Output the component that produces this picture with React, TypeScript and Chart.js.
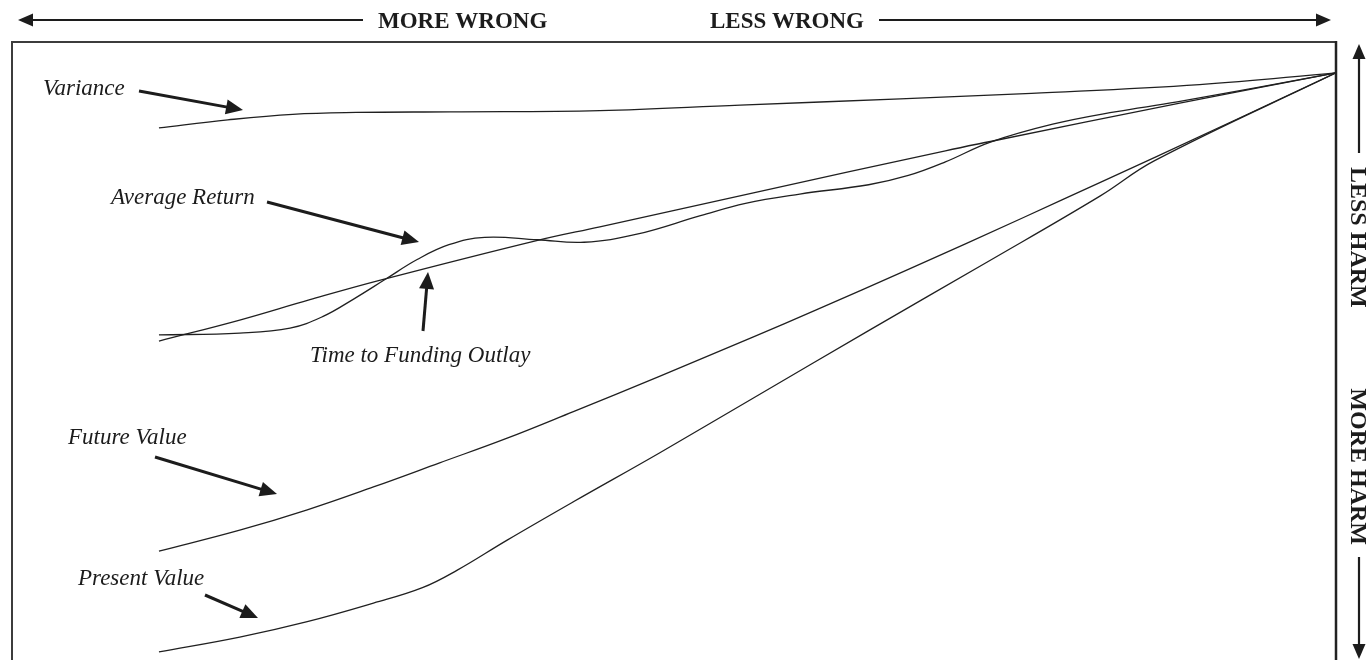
import React, { useEffect, useRef } from "react";
import { Chart, registerables } from "chart.js";

Chart.register(...registerables);

// Horizontal: 0 = far left ("more wrong") .. 100 = right edge ("less wrong")
// Vertical: 0 = bottom ("more harm") .. 100 = top ("less harm")
const varianceX = [11.1, 16.3, 21.2, 26.0, 33.1, 44.4, 55.0, 67.1, 77.0, 89.7, 100];
const varianceY = [86.1, 87.4, 88.3, 88.6, 88.7, 88.9, 89.8, 90.8, 91.7, 93.1, 95.0];

const averageReturnX = [11.1, 17.2, 21.0, 23.5, 25.8, 28.2, 30.6, 33.0, 35.7, 39.7, 43.2, 47.2, 52.0, 55.4, 59.5, 64.7, 67.7, 70.5, 73.9, 78.6, 83.3, 88.0, 100];
const averageReturnY = [52.6, 52.9, 53.7, 55.6, 58.4, 61.6, 64.8, 67.2, 68.4, 68.0, 67.6, 68.9, 71.9, 73.9, 75.4, 76.9, 78.4, 80.6, 83.8, 86.7, 88.7, 90.3, 95.0];

const timeToFundingX = [11.1, 17.2, 22.5, 27.9, 39.7, 44.4, 56.0, 70.5, 73.9, 88.2, 100];
const timeToFundingY = [51.6, 55.0, 58.3, 61.5, 67.9, 70.1, 75.6, 82.4, 83.9, 90.1, 95.0];

const futureValueX = [11.1, 17.2, 22.3, 27.3, 32.3, 37.4, 42.4, 48.9, 56.0, 60.7, 67.7, 76.4, 82.2, 86.4, 100];
const futureValueY = [17.6, 21.0, 24.3, 28.0, 31.9, 35.9, 40.2, 45.9, 52.3, 56.6, 63.2, 71.6, 77.3, 81.4, 95.0];

const presentValueX = [11.1, 17.2, 22.3, 27.3, 31.0, 33.6, 37.4, 42.4, 48.9, 56.0, 64.7, 73.5, 82.2, 86.3, 100];
const presentValueY = [1.3, 3.7, 6.2, 9.2, 11.7, 14.5, 19.4, 25.6, 33.5, 42.4, 53.3, 64.2, 75.1, 80.8, 95.0];

const seriesNames = ["Variance", "Average Return", "Time to Funding Outlay", "Future Value", "Present Value"];
const topLabels = ["MORE WRONG", "LESS WRONG"];
const sideLabels = ["LESS HARM", "MORE HARM"];

const toPoints = (xs: number[], ys: number[]) => xs.map((x, i) => ({ x, y: ys[i] }));

const INK = "#1c1c1c";

function arrow(ctx: CanvasRenderingContext2D, x1: number, y1: number, x2: number, y2: number, lw: number, headLen: number, headW: number) {
  const a = Math.atan2(y2 - y1, x2 - x1);
  const bx = x2 - headLen * Math.cos(a);
  const by = y2 - headLen * Math.sin(a);
  ctx.lineWidth = lw;
  ctx.beginPath();
  ctx.moveTo(x1, y1);
  ctx.lineTo(bx + Math.cos(a), by + Math.sin(a));
  ctx.stroke();
  ctx.beginPath();
  ctx.moveTo(x2, y2);
  ctx.lineTo(bx + headW * Math.sin(a), by - headW * Math.cos(a));
  ctx.lineTo(bx - headW * Math.sin(a), by + headW * Math.cos(a));
  ctx.closePath();
  ctx.fill();
}

const framePlugin = {
  id: "frame",
  beforeDatasetsDraw(chart: any) {
    const { ctx, chartArea } = chart;
    const { left, right, top, bottom } = chartArea;
    ctx.save();
    ctx.strokeStyle = "#3c3c3c";
    ctx.lineWidth = 2;
    ctx.beginPath();
    ctx.moveTo(left, bottom + 2);
    ctx.lineTo(left, top);
    ctx.lineTo(right, top);
    ctx.stroke();
    ctx.lineWidth = 2.5;
    ctx.strokeStyle = "#222";
    ctx.beginPath();
    ctx.moveTo(right, top - 1);
    ctx.lineTo(right, bottom + 2);
    ctx.stroke();
    ctx.restore();
  },
  afterDraw(chart: any) {
    const { ctx } = chart;
    ctx.save();
    ctx.fillStyle = INK;
    ctx.strokeStyle = INK;

    // top axis: arrows and labels
    ctx.font = "bold 23px 'Liberation Serif', 'Times New Roman', serif";
    ctx.textBaseline = "alphabetic";
    ctx.textAlign = "left";
    ctx.fillText(topLabels[0], 378, 28);
    ctx.fillText(topLabels[1], 710, 28);
    arrow(ctx, 363, 20, 18, 20, 2.2, 15, 6.5);
    arrow(ctx, 879, 20, 1331, 20, 2.2, 15, 6.5);

    // right axis: arrows and rotated labels
    arrow(ctx, 1359, 153, 1359, 44, 2.2, 15, 6.5);
    arrow(ctx, 1359, 557, 1359, 659, 2.2, 15, 6.5);
    ctx.font = "bold 24px 'Liberation Serif', 'Times New Roman', serif";
    ctx.save();
    ctx.translate(1351, 167);
    ctx.rotate(Math.PI / 2);
    ctx.fillText(sideLabels[0], 0, 0);
    ctx.restore();
    ctx.save();
    ctx.translate(1351, 545);
    ctx.rotate(Math.PI / 2);
    ctx.textAlign = "right";
    ctx.fillText(sideLabels[1], 0, 0);
    ctx.restore();

    // curve labels
    ctx.font = "italic 23px 'Liberation Serif', 'Times New Roman', serif";
    ctx.fillText(seriesNames[0], 43, 95);
    ctx.fillText(seriesNames[1], 111, 204);
    ctx.fillText(seriesNames[2], 310, 362);
    ctx.fillText(seriesNames[3], 68, 444);
    ctx.fillText(seriesNames[4], 78, 585);

    arrow(ctx, 139, 91, 243, 110, 3, 17, 7.5);
    arrow(ctx, 267, 202, 419, 242, 3, 17, 7.5);
    arrow(ctx, 423, 331, 428, 272, 3, 17, 7.5);
    arrow(ctx, 155, 457, 277, 494, 3, 17, 7.5);
    arrow(ctx, 205, 595, 258, 618, 3, 17, 7.5);

    ctx.restore();
  },
};

export default function App() {
  const canvasRef = useRef<HTMLCanvasElement | null>(null);

  useEffect(() => {
    if (!canvasRef.current) return;
    const allX = [varianceX, averageReturnX, timeToFundingX, futureValueX, presentValueX];
    const allY = [varianceY, averageReturnY, timeToFundingY, futureValueY, presentValueY];
    const chart = new Chart(canvasRef.current, {
      type: "scatter",
      data: {
        datasets: seriesNames.map((name, i) => ({
          label: name,
          data: toPoints(allX[i], allY[i]),
          showLine: true,
          borderColor: "#202020",
          backgroundColor: "#202020",
          borderWidth: 1.3,
          pointRadius: 0,
          pointHoverRadius: 0,
          tension: 0.4,
          fill: false,
        })),
      },
      options: {
        animation: false,
        responsive: true,
        maintainAspectRatio: false,
        layout: { padding: { left: 12, top: 42, right: 33, bottom: 0 } },
        plugins: { legend: { display: false }, tooltip: { enabled: false } },
        events: [],
        scales: {
          x: { type: "linear", min: 0, max: 100, display: false },
          y: { type: "linear", min: 0, max: 100, display: false },
        },
      },
      plugins: [framePlugin],
    });
    return () => chart.destroy();
  }, []);

  return (
    <div style={{ position: "absolute", left: 0, top: 0, width: 1369, height: 660, background: "#fff" }}>
      <canvas ref={canvasRef} />
    </div>
  );
}
